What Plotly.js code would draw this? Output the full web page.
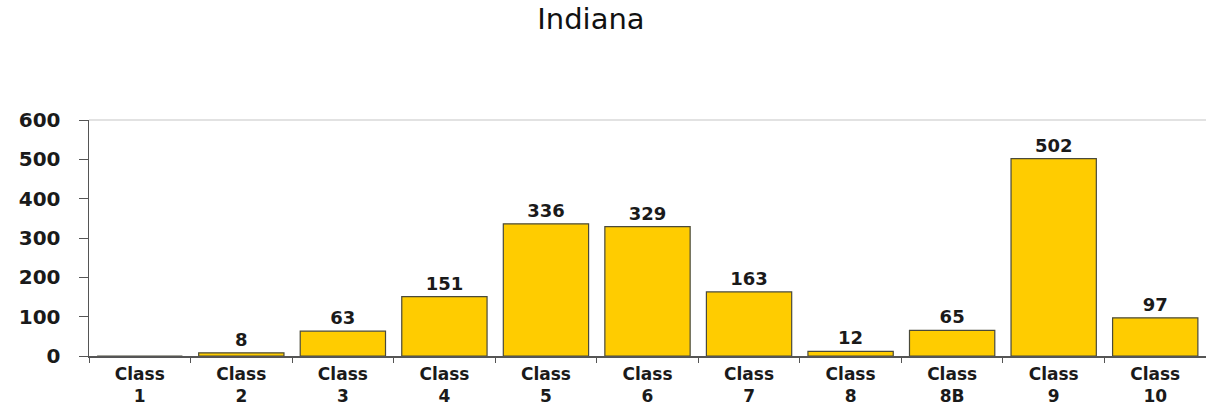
<!DOCTYPE html>
<html>
<head>
<meta charset="utf-8">
<script src="https://cdn.plot.ly/plotly-3.0.1.min.js"></script>
<style>html,body{margin:0;padding:0;background:#fff;}#chart{width:1206px;height:411px;}</style>
</head>
<body>
<div id="chart"></div>
<script>
const chartTitle = "Indiana";
const categories = ["Class<br>1","Class<br>2","Class<br>3","Class<br>4","Class<br>5","Class<br>6","Class<br>7","Class<br>8","Class<br>8B","Class<br>9","Class<br>10"];
const values = [0, 8, 63, 151, 336, 329, 163, 12, 65, 502, 97];
const yTicks = [0, 100, 200, 300, 400, 500, 600];

const labels = values.map(v => v > 0 ? String(v) : "");
const boldFont = "DejaVu Sans, Verdana, sans-serif";

const trace = {
  type: "bar",
  x: categories,
  y: values,
  text: labels,
  textposition: "outside",
  cliponaxis: false,
  textfont: {family: boldFont, size: 18, color: "#1a1a1a", weight: "bold"},
  marker: {color: "#FFCC00", line: {color: "#4a4a3a", width: 1.2}},
  hoverinfo: "x+y"
};

const layout = {
  width: 1206, height: 411,
  margin: {l: 89, r: 0, t: 120, b: 55},
  paper_bgcolor: "#fff", plot_bgcolor: "#fff",
  title: {text: chartTitle, x: 0.49, xanchor: "center", y: 0.955, yanchor: "middle",
          font: {family: boldFont, size: 29, color: "#111"}},
  bargap: 0.16,
  showlegend: false,
  xaxis: {
    type: "category",
    tickson: "boundaries",
    ticks: "outside", ticklen: 5, tickcolor: "#555", tickwidth: 1,
    showline: true, linecolor: "#555", linewidth: 1.5,
    showgrid: false, zeroline: false,
    tickfont: {family: boldFont, size: 17, color: "#1a1a1a", weight: "bold"},
    tickangle: 0,
    ticklabelstandoff: 2
  },
  yaxis: {
    range: [0, 600],
    tickvals: yTicks,
    ticktext: yTicks.map(String),
    ticks: "outside", ticklen: 9, tickcolor: "#555", tickwidth: 1,
    showline: true, linecolor: "#555", linewidth: 1.5,
    showgrid: false, zeroline: false,
    tickfont: {family: boldFont, size: 20, color: "#1a1a1a", weight: "bold"},
    ticklabelstandoff: 14
  },
  shapes: [{type: "line", xref: "paper", yref: "paper", x0: 0, x1: 1, y0: 1, y1: 1,
            line: {color: "#d8d8d8", width: 1.5}}]
};

Plotly.newPlot("chart", [trace], layout, {displayModeBar: false, staticPlot: true});
</script>
</body>
</html>
